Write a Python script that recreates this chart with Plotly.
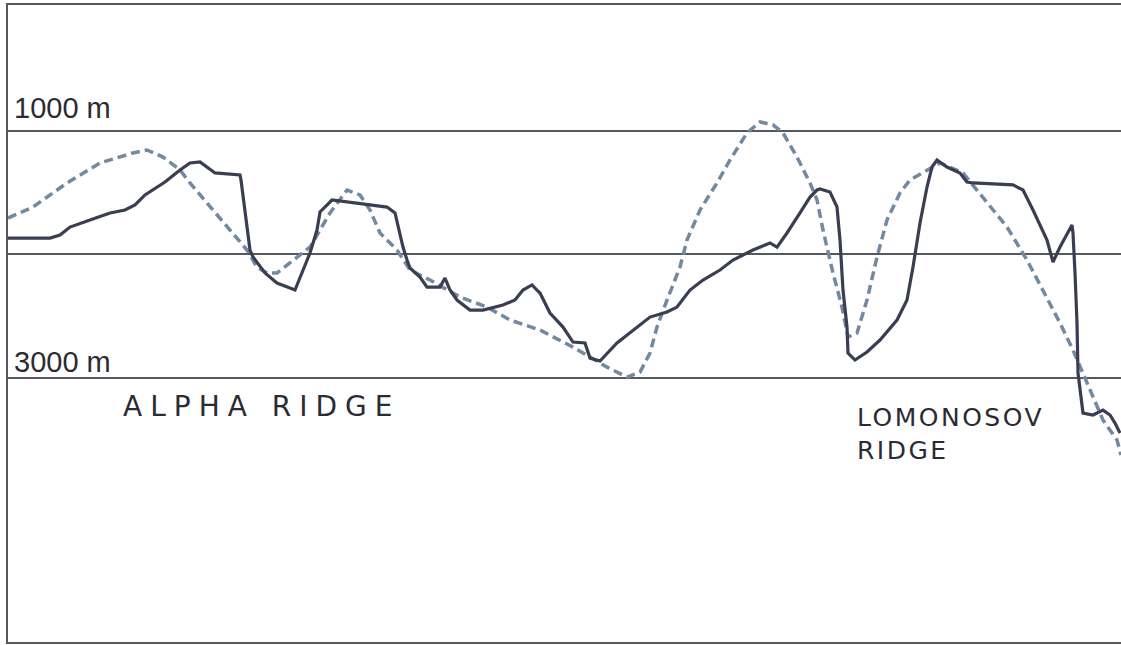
import plotly.graph_objects as go

# distance along profile (arbitrary units) and depth (m)
solid_x = [8, 50, 60, 70, 90, 110, 125, 135, 145, 165, 180, 190, 200, 215, 240, 241, 250, 253,
           265, 277, 295, 303, 310, 317, 320, 332, 353, 387, 395, 403, 407, 410, 420, 427, 440,
           445, 450, 457, 470, 483, 503, 515, 523, 532, 537, 540, 550, 563, 573, 585, 590, 600,
           617, 633, 650, 667, 677, 690, 703, 720, 733, 753, 770, 777, 787, 800, 810, 817, 820,
           830, 837, 840, 843, 847, 848, 855, 867, 880, 897, 907, 913, 920, 927, 932, 937, 947,
           960, 967, 973, 1013, 1023, 1033, 1047, 1053, 1060, 1072, 1073, 1075, 1077, 1078,
           1083, 1093, 1103, 1110, 1115, 1120]
solid_depth = [1867, 1867, 1842, 1778, 1721, 1664, 1640, 1599, 1518, 1413, 1316, 1259, 1251,
               1340, 1356, 1397, 1964, 2021, 2150, 2231, 2288, 2126, 1988, 1802, 1656, 1559,
               1583, 1616, 1664, 1940, 2045, 2110, 2183, 2264, 2264, 2191, 2288, 2369, 2450,
               2450, 2409, 2369, 2288, 2247, 2288, 2312, 2474, 2588, 2709, 2717, 2839, 2863,
               2717, 2612, 2507, 2466, 2426, 2288, 2207, 2126, 2045, 1964, 1907, 1940, 1826,
               1664, 1535, 1478, 1470, 1494, 1616, 1883, 2288, 2588, 2798, 2855, 2790, 2693,
               2531, 2369, 2102, 1745, 1454, 1292, 1235, 1292, 1340, 1413, 1421, 1437, 1478,
               1640, 1883, 2061, 1940, 1761, 1826, 2150, 2555, 2960, 3284, 3300, 3260, 3300,
               3365, 3446]

dashed_x = [8, 33, 67, 100, 133, 147, 163, 180, 190, 207, 227, 247, 257, 267, 277, 290, 310,
            330, 347, 360, 370, 380, 397, 410, 430, 460, 487, 510, 540, 573, 607, 627, 640,
            650, 657, 667, 680, 687, 700, 717, 730, 747, 760, 773, 783, 797, 810, 817, 823,
            833, 842, 848, 857, 867, 877, 887, 900, 910, 927, 940, 963, 987, 1007, 1027,
            1043, 1060, 1073, 1083, 1093, 1103, 1117, 1121]
dashed_depth = [1705, 1616, 1421, 1259, 1178, 1154, 1211, 1316, 1421, 1583, 1778, 1964, 2102,
                2150, 2150, 2069, 1940, 1664, 1478, 1518, 1640, 1826, 1964, 2126, 2207, 2345,
                2426, 2531, 2612, 2750, 2912, 2993, 2952, 2798, 2588, 2369, 2102, 1883, 1640,
                1421, 1235, 1016, 927, 951, 1016, 1211, 1421, 1559, 1802, 2150, 2426, 2669,
                2636, 2369, 2021, 1721, 1502, 1397, 1316, 1259, 1340, 1583, 1778, 2045, 2288,
                2555, 2774, 2960, 3155, 3341, 3503, 3624]

depth_lines = [1000, 2000, 3000]
depth_labels = ["1000 m", "", "3000 m"]
label_shift = {"1000 m": 5, "3000 m": -2}

fig = go.Figure()
fig.add_trace(go.Scatter(x=dashed_x, y=dashed_depth, mode="lines",
                         line=dict(color="#7189a1", width=3.5, dash="9px,5px"),
                         showlegend=False, hoverinfo="skip"))
fig.add_trace(go.Scatter(x=solid_x, y=solid_depth, mode="lines",
                         line=dict(color="#3a3e52", width=3.2),
                         showlegend=False, hoverinfo="skip"))

for d, lab in zip(depth_lines, depth_labels):
    if lab:
        fig.add_annotation(x=12, y=d, text=lab, showarrow=False, xanchor="left",
                           yanchor="bottom", yshift=label_shift[lab],
                           font=dict(family="Liberation Sans", size=29, color="#2b2b33"))

fig.add_annotation(x=261, y=3227, text="ALPHA RIDGE", showarrow=False, xanchor="center",
                   font=dict(family="DejaVu Sans", size=28, color="#2b2b33"))
fig.add_annotation(x=855, y=3453, text="LOMONOSOV<br>RIDGE", showarrow=False,
                   xanchor="left", align="left",
                   font=dict(family="DejaVu Sans", size=25, color="#2b2b33"))

fig.update_layout(
    width=1121, height=645,
    margin=dict(l=8, r=0, t=5, b=3),
    paper_bgcolor="white", plot_bgcolor="white",
    xaxis=dict(range=[8, 1121], showgrid=False, zeroline=False, showticklabels=False,
               ticks="", showline=True, mirror=True, linecolor="#55585f", linewidth=1.5),
    yaxis=dict(range=[5138, -20], tickvals=depth_lines, showticklabels=False, ticks="",
               showgrid=True, gridcolor="#55585f", gridwidth=1.5, zeroline=False,
               showline=True, linecolor="#55585f", linewidth=1.5),
)

post = """
document.body.style.margin = '0';
document.querySelectorAll('.annotation-text').forEach(function(t) {
  if (t.textContent.indexOf('ALPHA') >= 0) { t.style.letterSpacing = '8px'; }
  if (t.textContent.indexOf('LOMONOSOV') >= 0) { t.style.letterSpacing = '2.5px'; }
});
"""

fig.write_html("out.html", post_script=post, config={"displayModeBar": False})
